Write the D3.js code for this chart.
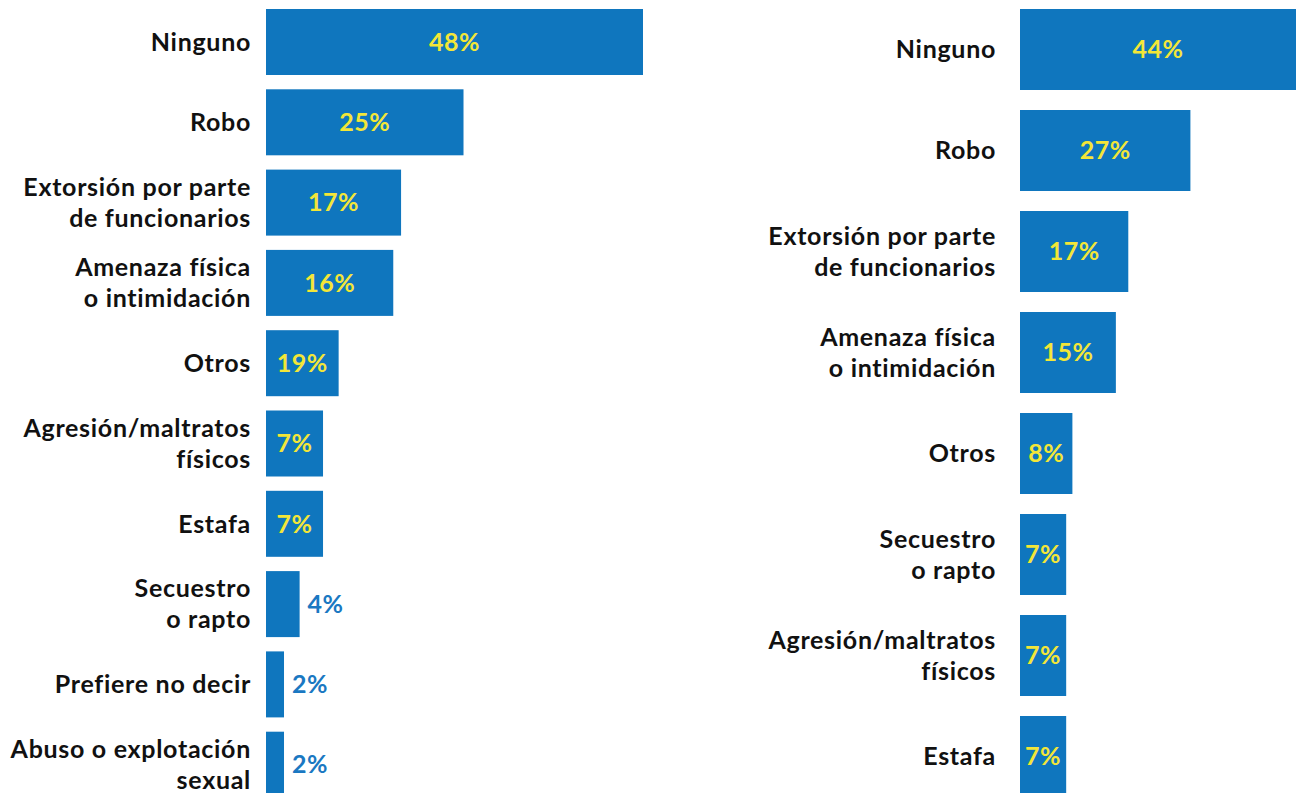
<!DOCTYPE html>
<html>
<head>
	<script src="https://cdn.jsdelivr.net/npm/d3@7/dist/d3.min.js"></script>
	<style>
		html, body {
			padding: 0;
			margin: 0;
			background: #ffffff;
		}
		text {
			font-family: Lato, "Open Sans", sans-serif;
			font-weight: 700;
		}
	</style>
</head>
<body>
	<script>
		var width = 1299, height = 793;

		// left panel
		var leftCategories = ['Ninguno', 'Robo', 'Extorsión por parte|de funcionarios', 'Amenaza física|o intimidación',
			'Otros', 'Agresión/maltratos|físicos', 'Estafa', 'Secuestro|o rapto', 'Prefiere no decir', 'Abuso o explotación|sexual'];
		var leftValues = [48, 25, 17, 16, 9, 7, 7, 4, 2, 2];   // bar lengths as drawn
		var leftLabels = ['48%', '25%', '17%', '16%', '19%', '7%', '7%', '4%', '2%', '2%'];  // printed text

		// right panel
		var rightCategories = ['Ninguno', 'Robo', 'Extorsión por parte|de funcionarios', 'Amenaza física|o intimidación',
			'Otros', 'Secuestro|o rapto', 'Agresión/maltratos|físicos', 'Estafa'];
		var rightValues = [44, 27, 17, 15, 8, 7, 7, 7];
		var rightLabels = ['44%', '27%', '17%', '15%', '8%', '7%', '7%', '7%'];

		var barColor = '#0f76be';
		var inColor = '#f3e638';
		var outColor = '#1a78c2';

		var svg = d3.select('body').append('svg')
			.attr('width', width)
			.attr('height', height);

		function drawPanel(cats, vals, labels, opt) {
			var g = svg.append('g').attr('transform', 'translate(' + opt.x0 + ',0)');

			var y = d3.scaleBand()
				.domain(cats)
				.range([opt.top, opt.top + cats.length * opt.step - (opt.step - opt.barH)])
				.paddingInner((opt.step - opt.barH) / opt.step)
				.paddingOuter(0);

			var x = d3.scaleLinear()
				.domain([0, d3.max(vals)])
				.range([opt.minW, opt.maxW]);

			var rows = g.selectAll('g.row')
				.data(cats.map(function(c, i) { return {cat: c, v: vals[i], lab: labels[i]}; }))
				.enter().append('g')
				.attr('class', 'row');

			rows.append('rect')
				.attr('x', 0)
				.attr('y', function(d) { return y(d.cat); })
				.attr('width', function(d) { return x(d.v); })
				.attr('height', y.bandwidth())
				.attr('fill', barColor);

			// category labels, right aligned
			rows.each(function(d) {
				var lines = d.cat.split('|');
				var cy = y(d.cat) + y.bandwidth() / 2;
				var t = d3.select(this).append('text')
					.attr('x', -opt.gap)
					.attr('text-anchor', 'end')
					.attr('font-size', 25)
					.attr('letter-spacing', '0.7px')
					.attr('fill', '#111111');
				lines.forEach(function(l, k) {
					t.append('tspan')
						.attr('x', -opt.gap)
						.attr('y', cy + (k - (lines.length - 1) / 2) * 31)
						.attr('dy', '0.35em')
						.text(l);
				});
			});

			// value labels
			rows.append('text')
				.attr('x', function(d) { return d.v < 5 ? x(d.v) + 8 : x(d.v) / 2; })
				.attr('y', function(d) { return y(d.cat) + y.bandwidth() / 2; })
				.attr('dy', '0.35em')
				.attr('text-anchor', function(d) { return d.v < 5 ? 'start' : 'middle'; })
				.attr('font-size', 25)
				.attr('letter-spacing', '0.5px')
				.attr('fill', function(d) { return d.v < 5 ? outColor : inColor; })
				.text(function(d) { return d.lab; });
		}

		drawPanel(leftCategories, leftValues, leftLabels,
			{x0: 266, top: 9, step: 80.3, barH: 66, minW: 2.4, maxW: 377, gap: 15});
		drawPanel(rightCategories, rightValues, rightLabels,
			{x0: 1020, top: 9, step: 101, barH: 81, minW: 2.7, maxW: 276, gap: 24});
	</script>
</body>
</html>
